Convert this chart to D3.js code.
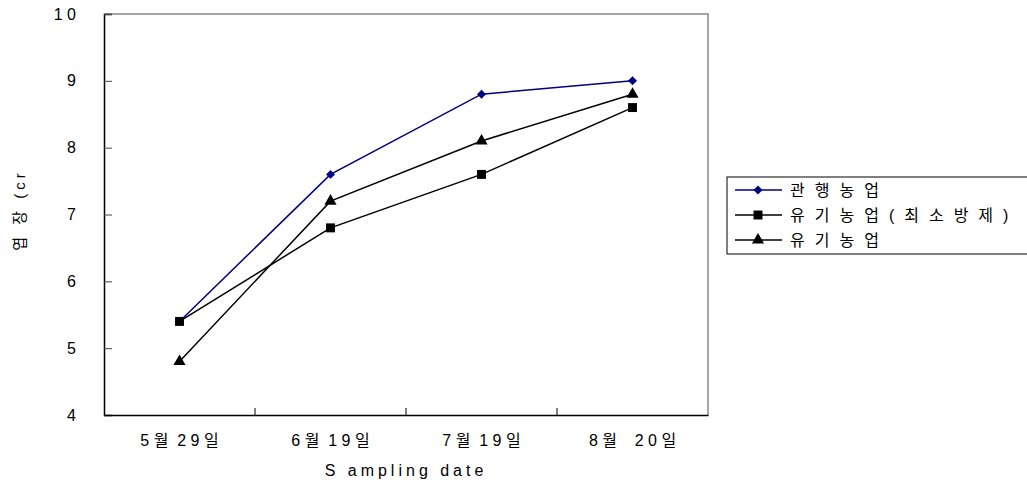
<!DOCTYPE html>
<html>
<head>
<meta charset="utf-8">
<script src="https://cdn.jsdelivr.net/npm/d3@7"></script>
<style>
  html, body { margin: 0; padding: 0; background: #fff; }
  svg { display: block; }
  text { font-family: "Liberation Sans", "Noto Sans CJK KR", sans-serif; fill: #000; white-space: pre; }
</style>
</head>
<body>
<svg id="chart" width="1027" height="488"></svg>
<script>
// Sampling dates and leaf length (cm) per farming practice
const dates = ["5월 29일", "6월 19일", "7월 19일", "8월  20일"];
const conventional = [5.4, 7.6, 8.8, 9.0];
const organicMinSpray = [5.4, 6.8, 7.6, 8.6];
const organic = [4.8, 7.2, 8.1, 8.8];
const yTicks = [4, 5, 6, 7, 8, 9, 10];
const seriesNames = ["관행농업", "유기농업(최소방제)", "유기농업"];

const series = [
  { name: seriesNames[0], values: conventional, color: "#000080", shape: d3.symbolSquare, size: 40, rot: 45 },
  { name: seriesNames[1], values: organicMinSpray, color: "#000000", shape: d3.symbolSquare, size: 80, rot: 0 },
  { name: seriesNames[2], values: organic, color: "#000000", shape: d3.symbolTriangle, size: 64, rot: 0 }
];

// widely tracked label text
const spaced = s => String(s).split("").join(" ").replace(/   /g, "  ");

const svg = d3.select("#chart");
const margin = { left: 104, top: 14, right: 708, bottom: 415 };

const x = d3.scaleBand().domain(dates).range([margin.left, margin.right]);
const y = d3.scaleLinear().domain([4, 10]).range([margin.bottom, margin.top]);

// plot frame (top and right)
svg.append("path")
  .attr("d", `M${margin.left},${margin.top}H${margin.right}V${margin.bottom}`)
  .attr("fill", "none").attr("stroke", "#888").attr("stroke-width", 1.5);

// y axis
const yAxis = svg.append("g").attr("transform", `translate(${margin.left},0)`)
  .call(d3.axisLeft(y).tickValues(yTicks).tickFormat(d => spaced(d)).tickSize(-8).tickPadding(28));
yAxis.select(".domain").attr("stroke", "#000").attr("stroke-width", 1.5);
yAxis.selectAll(".tick line").attr("stroke", "#444");
yAxis.selectAll(".tick text").attr("font-size", 16).attr("fill", "#000")
  .attr("font-family", "Liberation Sans, sans-serif");

// x axis with ticks at band boundaries
const xAxis = svg.append("g").attr("transform", `translate(0,${margin.bottom})`)
  .call(d3.axisBottom(x).tickSize(0).tickPadding(20).tickFormat(d => spaced(d)));
xAxis.select(".domain").attr("stroke", "#000").attr("stroke-width", 1.5);
xAxis.selectAll(".tick text").attr("font-size", 16).attr("fill", "#000")
  .attr("font-family", "Liberation Sans, Noto Sans CJK KR, sans-serif");
svg.append("g").selectAll("line")
  .data(dates.slice(1))
  .join("line")
  .attr("x1", d => x(d)).attr("x2", d => x(d))
  .attr("y1", margin.bottom).attr("y2", margin.bottom - 7)
  .attr("stroke", "#000").attr("stroke-width", 1);

// axis titles
svg.append("text")
  .attr("x", (margin.left + margin.right) / 2).attr("y", 476)
  .attr("text-anchor", "middle").attr("font-size", 16).attr("letter-spacing", 4)
  .text("S ampling date");
svg.append("text")
  .attr("transform", "translate(25,210) rotate(-90)")
  .attr("text-anchor", "middle").attr("font-size", 15).attr("letter-spacing", 4)
  .attr("font-family", "Noto Sans CJK KR, sans-serif")
  .text("엽 장 (cr");

// series lines and markers
const cx = i => x(dates[i]) + x.bandwidth() / 2;
const line = d3.line().x((d, i) => cx(i)).y(d => y(d));
series.forEach(s => {
  svg.append("path").datum(s.values)
    .attr("d", line).attr("fill", "none")
    .attr("stroke", s.color).attr("stroke-width", 1.5);
  svg.append("g").selectAll("path")
    .data(s.values)
    .join("path")
    .attr("d", d3.symbol().type(s.shape).size(s.size))
    .attr("transform", (d, i) => `translate(${cx(i)},${y(d)}) rotate(${s.rot})`)
    .attr("fill", s.color);
});

// legend
const legend = svg.append("g");
legend.append("rect")
  .attr("x", 727).attr("y", 177).attr("width", 310).attr("height", 77)
  .attr("fill", "#fff").attr("stroke", "#000").attr("stroke-width", 1);
series.forEach((s, i) => {
  const ly = 190 + i * 25;
  legend.append("line").attr("x1", 735).attr("x2", 782).attr("y1", ly).attr("y2", ly)
    .attr("stroke", s.color).attr("stroke-width", 1.5);
  legend.append("path").attr("d", d3.symbol().type(s.shape).size(s.size))
    .attr("transform", `translate(758,${ly}) rotate(${s.rot})`).attr("fill", s.color);
  legend.append("text").attr("x", 790).attr("y", ly + 6).attr("font-size", 16)
    .attr("letter-spacing", 10)
    .attr("font-family", "Noto Sans CJK KR, sans-serif")
    .text(s.name);
});
</script>
</body>
</html>
